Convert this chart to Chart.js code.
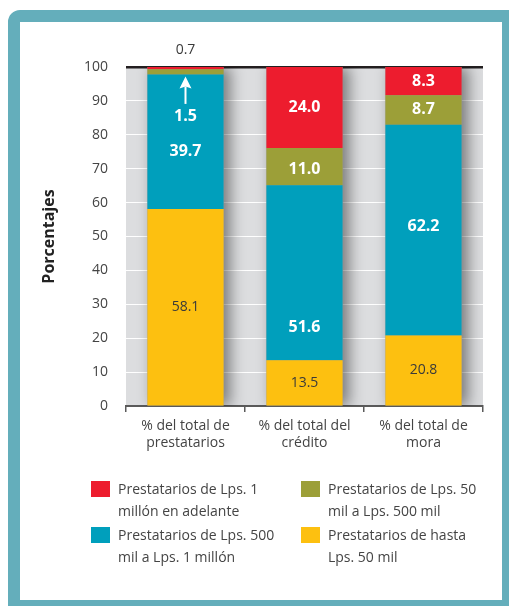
<!DOCTYPE html>
<html>
<head>
<meta charset="utf-8">
<script src="https://cdn.jsdelivr.net/npm/chart.js@4.4.1/dist/chart.umd.min.js"></script>
<style>
  html, body { margin: 0; padding: 0; width: 509px; height: 606px; overflow: hidden; background: #ffffff; }
  #frame { position: absolute; left: 8px; top: 10px; width: 482px; height: 578px; border: 12px solid #64aebb; border-top-left-radius: 12px; background: #ffffff; }
  #c { position: absolute; left: 0; top: 0; }
</style>
</head>
<body>
<div id="frame"></div>
<canvas id="c" width="509" height="606"></canvas>
<script>
// ---- data ----
const categories = [
  ['% del total de', 'prestatarios'],
  ['% del total del', 'crédito'],
  ['% del total de', 'mora']
];
const hasta50mil   = [58.1, 13.5, 20.8];
const de500milA1M  = [39.7, 51.6, 62.2];
const de50milA500  = [1.5, 11.0, 8.7];
const de1MAdelante = [0.7, 24.0, 8.3];
const yTicks = [0, 10, 20, 30, 40, 50, 60, 70, 80, 90, 100];
const legendNames = {
  red:    ['Prestatarios de Lps. 1', 'millón en adelante'],
  olive:  ['Prestatarios de Lps. 50', 'mil a Lps. 500 mil'],
  teal:   ['Prestatarios de Lps. 500', 'mil a Lps. 1 millón'],
  yellow: ['Prestatarios de hasta', 'Lps. 50 mil']
};

const FONT = '"Open Sans", "Noto Sans", sans-serif';
const COL = { red: '#ed1c2e', olive: '#9c9f38', teal: '#009fbc', yellow: '#fdc010' };

// background + bar shadow
const bgPlugin = {
  id: 'bg',
  beforeDatasetsDraw(chart) {
    const { ctx, chartArea: a } = chart;
    const metas = chart.getSortedVisibleDatasetMetas();
    ctx.save();
    ctx.beginPath();
    ctx.rect(a.left, a.top, a.right - a.left, a.bottom - a.top);
    ctx.clip();
    ctx.shadowColor = 'rgba(0,0,0,0.45)';
    ctx.shadowBlur = 14;
    ctx.shadowOffsetX = 6;
    ctx.fillStyle = '#999';
    const first = metas[0], last = metas[metas.length - 1];
    first.data.forEach((el, j) => {
      const top = last.data[j].y, bottom = el.base;
      const w = el.width;
      ctx.fillRect(el.x - w / 2, top, w, bottom - top);
    });
    ctx.restore();
  },
  beforeDraw(chart) {
    const { ctx, chartArea: a } = chart;
    ctx.save();
    ctx.fillStyle = '#dcdddf';
    ctx.fillRect(a.left, a.top, a.right - a.left, a.bottom - a.top);
    ctx.restore();
  }
};

// value labels
const labelPlugin = {
  id: 'vlabels',
  afterDatasetsDraw(chart, args, opts) {
    const { ctx } = chart;
    chart.data.datasets.forEach((ds, i) => {
      const meta = chart.getDatasetMeta(i);
      meta.data.forEach((el, j) => {
        const key = ds.key + j;
        const adj = opts.adjust[key] || {};
        const cy = (el.y + el.base) / 2 + (adj.dy || 0);
        const light = adj.dark ? false : ds.lightLabel;
        ctx.save();
        ctx.textAlign = 'center';
        ctx.textBaseline = 'middle';
        ctx.font = light ? 'bold 16px ' + FONT : '14px ' + FONT;
        ctx.fillStyle = light ? '#ffffff' : '#3a3a3a';
        ctx.fillText(ds.data[j].toFixed(1), el.x, cy);
        if (adj.arrow) {
          const tip = el.base + 2, tail = cy - 13;
          ctx.strokeStyle = '#ffffff';
          ctx.fillStyle = '#ffffff';
          ctx.lineWidth = 2;
          ctx.beginPath(); ctx.moveTo(el.x, tail); ctx.lineTo(el.x, tip + 10); ctx.stroke();
          ctx.beginPath(); ctx.moveTo(el.x, tip); ctx.lineTo(el.x - 6, tip + 12); ctx.lineTo(el.x, tip + 10); ctx.lineTo(el.x + 6, tip + 12); ctx.closePath(); ctx.fill();
        }
        ctx.restore();
      });
    });
  }
};

// legend (2 columns, 2 lines each)
const legendPlugin = {
  id: 'legend2',
  afterDraw(chart, args, opts) {
    const { ctx } = chart;
    const order = ['red', 'olive', 'teal', 'yellow'];
    order.forEach((k, n) => {
      const ds = chart.data.datasets.find(d => d.key === k);
      const col = n % 2, row = Math.floor(n / 2);
      const x = opts.x0 + col * opts.colW;
      const y = opts.y0 + row * opts.rowH;
      ctx.save();
      ctx.fillStyle = ds.backgroundColor;
      ctx.fillRect(x, y, 19, 16);
      ctx.font = '14px ' + FONT;
      ctx.fillStyle = '#444';
      ctx.textBaseline = 'middle';
      ctx.textAlign = 'left';
      legendNames[k].forEach((t, li) => ctx.fillText(t, x + 27, y + 9 + li * 22));
      ctx.restore();
    });
  }
};

new Chart(document.getElementById('c'), {
  type: 'bar',
  data: {
    labels: categories,
    datasets: [
      { key: 'yellow', label: legendNames.yellow.join(' '), data: hasta50mil, backgroundColor: COL.yellow, lightLabel: false },
      { key: 'teal', label: legendNames.teal.join(' '), data: de500milA1M, backgroundColor: COL.teal, lightLabel: true },
      { key: 'olive', label: legendNames.olive.join(' '), data: de50milA500, backgroundColor: COL.olive, lightLabel: true },
      { key: 'red', label: legendNames.red.join(' '), data: de1MAdelante, backgroundColor: COL.red, lightLabel: true }
    ]
  },
  options: {
    responsive: false,
    animation: false,
    devicePixelRatio: 1,
    layout: { padding: { left: 0, right: 26, top: 67, bottom: 0 } },
    datasets: { bar: { barPercentage: 0.64, categoryPercentage: 1.0, borderWidth: 0 } },
    plugins: {
      legend: { display: false },
      tooltip: { enabled: false },
      vlabels: {
        adjust: {
          teal0: { dy: 10 },
          olive0: { dy: 45, arrow: true },
          red0: { dy: -18, dark: true },
          teal1: { dy: 55 },
          olive1: { dy: 3 },
          teal2: { dy: -4 }
        }
      },
      legend2: { x0: 91, y0: 481, colW: 210, rowH: 46 }
    },
    scales: {
      x: {
        stacked: true,
        afterFit(s) { s.height = 200; },
        grid: { display: true, drawOnChartArea: false, drawTicks: true, tickLength: 6, offset: true, color: '#5a5a5a', lineWidth: 1.5 },
        border: { display: true, color: '#5a5a5a', width: 2 },
        ticks: { color: '#444', padding: 5, font: { family: FONT, size: 14, lineHeight: 1.25 } }
      },
      y: {
        stacked: true,
        min: 0, max: 100,
        afterFit(s) { s.width = 126; },
        afterBuildTicks(s) { s.ticks = yTicks.map(v => ({ value: v })); },
        ticks: { color: '#444', padding: 18, font: { family: FONT, size: 14 } },
        grid: {
          drawTicks: false,
          color: (c) => c.tick && c.tick.value === 100 ? '#231f20' : (c.tick && c.tick.value === 0 ? 'rgba(0,0,0,0)' : '#ffffff'),
          lineWidth: (c) => c.tick && c.tick.value === 100 ? 2.5 : 1
        },
        border: { display: false },
        title: { display: true, text: 'Porcentajes', color: '#222', padding: { top: 40, bottom: 0 }, font: { family: FONT, size: 16, weight: 'bold' } }
      }
    }
  },
  plugins: [bgPlugin, labelPlugin, legendPlugin]
});
</script>
</body>
</html>
